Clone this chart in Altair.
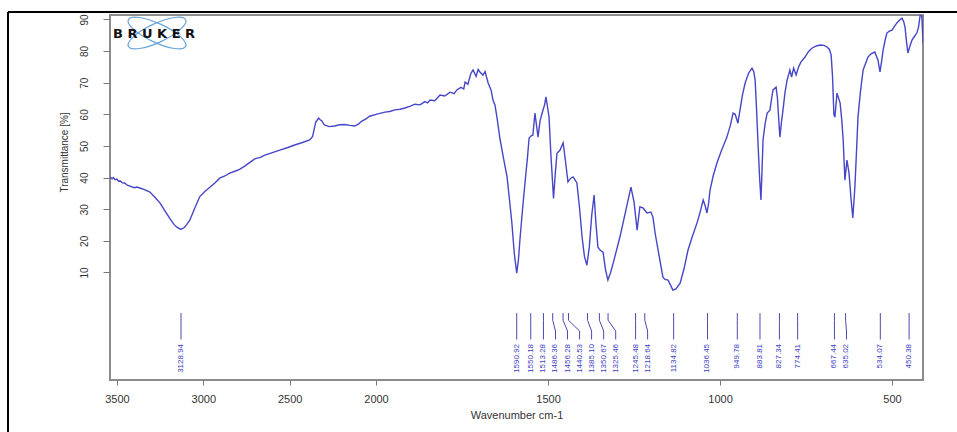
import altair as alt
import pandas as pd

# ---------------- data ----------------
wavenumber = [
    3540, 3528, 3520, 3511, 3500, 3490, 3482, 3470, 3453, 3440, 3424, 3400, 3385, 3367, 3340,
    3309, 3280, 3251, 3222, 3193, 3170, 3153, 3130, 3110, 3095, 3078, 3049, 3020, 2991, 2960,
    2933, 2905, 2875, 2850, 2817, 2790, 2760, 2730, 2702, 2670, 2644, 2600, 2557, 2510, 2471,
    2430, 2384, 2367, 2349, 2340, 2332, 2322, 2315, 2300, 2292, 2270, 2240, 2210, 2182, 2150,
    2124, 2100, 2084, 2060, 2037, 2000, 1974, 1960, 1945, 1930, 1916, 1900, 1887, 1872, 1858,
    1850, 1843, 1829, 1814, 1800, 1785, 1773, 1765, 1753, 1745, 1741, 1733, 1724, 1718, 1709,
    1703, 1698, 1689, 1683, 1674, 1665, 1660, 1654, 1647, 1640, 1630, 1619, 1612, 1605, 1598,
    1591, 1586, 1581, 1574, 1567, 1560, 1555, 1549, 1544, 1538, 1529, 1523, 1517, 1510, 1506,
    1501, 1497, 1492, 1484, 1479, 1474, 1465, 1456, 1449, 1442, 1434, 1427, 1416, 1408, 1401,
    1394, 1387, 1380, 1373, 1366, 1361, 1355, 1348, 1340, 1333, 1326, 1318, 1308, 1291, 1273,
    1259, 1250, 1241, 1233, 1224, 1212, 1201, 1195, 1188, 1180, 1166, 1160, 1151, 1144, 1137,
    1128, 1116, 1105, 1093, 1080, 1067, 1058, 1049, 1043, 1038, 1033, 1029, 1020, 1009, 995,
    980, 970, 962, 956, 948, 942, 935, 927, 917, 907, 902, 898, 894, 890, 885,
    881, 878, 875, 869, 863, 855, 850, 846, 837, 833, 831, 826, 822, 817, 811,
    805, 797, 792, 786, 779, 772, 765, 753, 743, 733, 720, 709, 698, 689, 682,
    677, 673, 669, 666, 660, 651, 646, 642, 637, 631, 625, 619, 614, 608, 603,
    599, 592, 584, 570, 560, 550, 541, 535, 530, 526, 520, 515, 508, 500, 493,
    486, 478, 471, 466, 462, 458, 454, 448, 442, 435, 428, 423, 419, 415, 413,
    410,
]
transmittance = [
    40.2, 39.6, 40.0, 39.3, 39.5, 38.8, 39.0, 38.4, 38.2, 37.6, 37.3, 36.8, 37.0, 36.7, 36.2,
    35.4, 33.8, 32.0, 29.5, 27.0, 25.2, 24.3, 23.6, 24.2, 25.2, 26.5, 30.4, 34.0, 35.6, 37.0,
    38.3, 39.8, 40.5, 41.3, 42.0, 42.6, 43.6, 44.8, 45.9, 46.4, 47.1, 47.9, 48.7, 49.5, 50.3,
    51.0, 51.9, 53.0, 57.5, 58.2, 58.8, 58.2, 58.0, 56.7, 56.5, 56.1, 56.3, 56.7, 56.8, 56.5,
    56.3, 57.0, 57.8, 58.5, 59.4, 60.0, 60.7, 60.9, 61.4, 61.6, 62.0, 62.6, 63.2, 63.0, 64.0,
    63.6, 64.5, 64.3, 66.1, 65.8, 67.0, 66.5, 67.7, 68.5, 68.0, 70.2, 69.5, 73.0, 74.0, 72.0,
    74.2, 73.4, 72.4, 73.5, 69.9, 67.5, 64.5, 62.9, 58.0, 52.5, 46.5, 40.2, 33.0, 25.6, 16.0,
    9.8, 14.0, 21.2, 30.0, 38.3, 46.0, 52.5, 53.2, 53.4, 60.4, 52.8, 58.0, 60.4, 63.0, 65.5,
    62.0, 59.1, 48.0, 33.4, 41.0, 47.7, 48.7, 51.0, 45.0, 38.6, 39.8, 40.2, 38.3, 30.0, 21.2,
    15.0, 12.3, 18.0, 28.0, 34.5, 26.0, 18.0, 17.0, 16.4, 11.0, 7.6, 10.0, 14.0, 21.2, 30.0,
    37.0, 32.3, 23.4, 30.7, 30.4, 28.8, 29.1, 27.5, 22.0, 17.1, 8.5, 7.8, 7.6, 6.0, 4.4,
    4.8, 6.6, 11.0, 17.1, 21.5, 25.6, 29.0, 32.9, 31.0, 28.8, 32.0, 36.0, 40.5, 44.6, 48.8,
    52.8, 56.5, 60.4, 60.0, 57.2, 61.3, 66.0, 69.9, 73.0, 74.6, 73.5, 70.8, 62.0, 51.9, 40.0,
    32.9, 42.0, 51.9, 57.0, 60.4, 61.3, 65.0, 67.7, 68.6, 65.0, 61.3, 52.8, 57.0, 61.3, 67.0,
    70.8, 74.0, 71.8, 74.6, 72.4, 74.9, 76.5, 78.1, 79.8, 80.9, 81.6, 81.9, 81.8, 81.3, 80.5,
    78.7, 72.0, 60.0, 59.1, 66.7, 63.6, 58.0, 51.9, 39.2, 45.5, 41.4, 33.0, 27.2, 37.0, 49.0,
    59.1, 67.0, 74.0, 78.1, 79.2, 79.7, 77.2, 73.4, 77.0, 80.3, 83.5, 85.7, 86.3, 86.6, 87.8,
    88.9, 89.8, 90.4, 89.3, 87.3, 83.0, 79.4, 81.5, 83.5, 84.6, 85.7, 87.5, 90.8, 92.5, 90.0,
    82.5,
]
peak_text = [
    "3128.94", "1590.92", "1550.18", "1513.28", "1486.36", "1456.28", "1440.53", "1385.10",
    "1350.67", "1325.46", "1245.48", "1218.64", "1134.82", "1036.45", "949.78", "883.81",
    "827.34", "774.41", "667.44", "635.02", "534.07", "450.38",
]
x_ticks = [3500, 3000, 2500, 2000, 1500, 1000, 500]
y_ticks = [10, 20, 30, 40, 50, 60, 70, 80, 90]

# ---------------- derived tables ----------------
spectrum = pd.DataFrame({"wavenumber": wavenumber, "transmittance": transmittance})

peak_pos = [float(s) for s in peak_text]
label_sep = 35.0  # minimum spacing of crowded peak labels (cm-1, below 2000)
label_pos = []
for p in peak_pos:
    if label_pos and p < 2000 and label_pos[-1] - p < label_sep:
        label_pos.append(label_pos[-1] - label_sep)
    else:
        label_pos.append(p)

leader_levels = [-2.85, -5.1, -8.5, -11.2]
rows = []
for i, (p, l) in enumerate(zip(peak_pos, label_pos)):
    for j, (w, t) in enumerate(zip([p, p, l, l], leader_levels)):
        rows.append({"peak": i, "seq": j, "wavenumber": w, "transmittance": t})
leaders = pd.DataFrame(rows)
labels = pd.DataFrame({
    "wavenumber": label_pos,
    "transmittance": [-12.6] * len(label_pos),
    "text": peak_text,
})

FONT = "Liberation Sans"
x_scale = alt.Scale(domain=[3540, 2000, 410], range=[0, 266, 813], nice=False, zero=False)
y_scale = alt.Scale(domain=[-24.0, 91.4], nice=False, zero=False)

x_enc = alt.X(
    "wavenumber:Q", scale=x_scale,
    axis=alt.Axis(
        values=x_ticks, format="d", title="Wavenumber cm-1", grid=False, domain=False,
        tickSize=5, tickColor="#777777", tickWidth=1, labelColor="#333333", labelFontSize=11,
        labelFont=FONT, labelPadding=8, labelFlush=False, labelOverlap=False,
        titleFont=FONT, titleFontSize=11, titleFontWeight="normal", titleColor="#333333",
        titlePadding=5,
    ),
)
y_enc = alt.Y(
    "transmittance:Q", scale=y_scale,
    axis=alt.Axis(
        values=y_ticks, format="d", title="Transmittance [%]", grid=False, domain=False,
        tickSize=7, tickColor="#777777", tickWidth=1, labelColor="#333333", labelFontSize=10,
        labelFont=FONT, labelAngle=270, labelAlign="center", labelBaseline="bottom",
        labelPadding=14, labelFlush=False,
        titleFont=FONT, titleFontSize=10, titleFontWeight="normal", titleColor="#333333",
        titlePadding=10, titleY=137,
    ),
)

curve = alt.Chart(spectrum).mark_line(color="#4646c8", strokeWidth=1.4, clip=True).encode(
    x=x_enc, y=y_enc, order="wavenumber:Q"
)
leader_lines = alt.Chart(leaders).mark_line(color="#4a4ab0", strokeWidth=1).encode(
    x=x_enc, y=y_enc, detail="peak:N", order="seq:Q"
)
peak_labels = alt.Chart(labels).mark_text(
    angle=270, align="right", baseline="middle", fontSize=8, font=FONT, color="#3d3dc4"
).encode(x=x_enc, y=y_enc, text="text:N")

# Bruker logo (decoration)
orbit = "M -1 0 A 1 0.3 0 1 1 1 0 A 1 0.3 0 1 1 -1 0 Z"
logo_src = pd.DataFrame({"k": [0]})
orbit1 = alt.Chart(logo_src).mark_point(
    shape=orbit, size=4000, filled=False, stroke="#5b9bd5", strokeWidth=1.2, angle=25, opacity=0.9
).encode(x=alt.value(47), y=alt.value(18))
orbit2 = alt.Chart(logo_src).mark_point(
    shape=orbit, size=4000, filled=False, stroke="#5b9bd5", strokeWidth=1.2, angle=335, opacity=0.9
).encode(x=alt.value(47), y=alt.value(18))
logo_text = alt.Chart(logo_src).mark_text(
    text="\u00a0".join("BRUKER"), font="DejaVu Sans", fontSize=13, fontWeight="bold",
    align="left", baseline="middle", color="#111111"
).encode(x=alt.value(3), y=alt.value(19))

# outer black frame lines of the figure
top_line = alt.Chart(logo_src).mark_rule(color="#000000", strokeWidth=2).encode(
    x=alt.value(-102), x2=alt.value(847), y=alt.value(-3)
)
left_line = alt.Chart(logo_src).mark_rule(color="#000000", strokeWidth=2).encode(
    x=alt.value(-102), y=alt.value(-3), y2=alt.value(417)
)

chart = alt.layer(
    curve, leader_lines, peak_labels, orbit1, orbit2, logo_text, top_line, left_line
).properties(
    width=813, height=365,
    autosize=alt.AutoSizeParams(type="none"),
    padding={"left": 110, "top": 15, "right": 34, "bottom": 52},
    background="white",
).configure_view(stroke="#8c8c8c", strokeWidth=2)

chart.save("out.html", embed_options={"renderer": "svg", "actions": False})
